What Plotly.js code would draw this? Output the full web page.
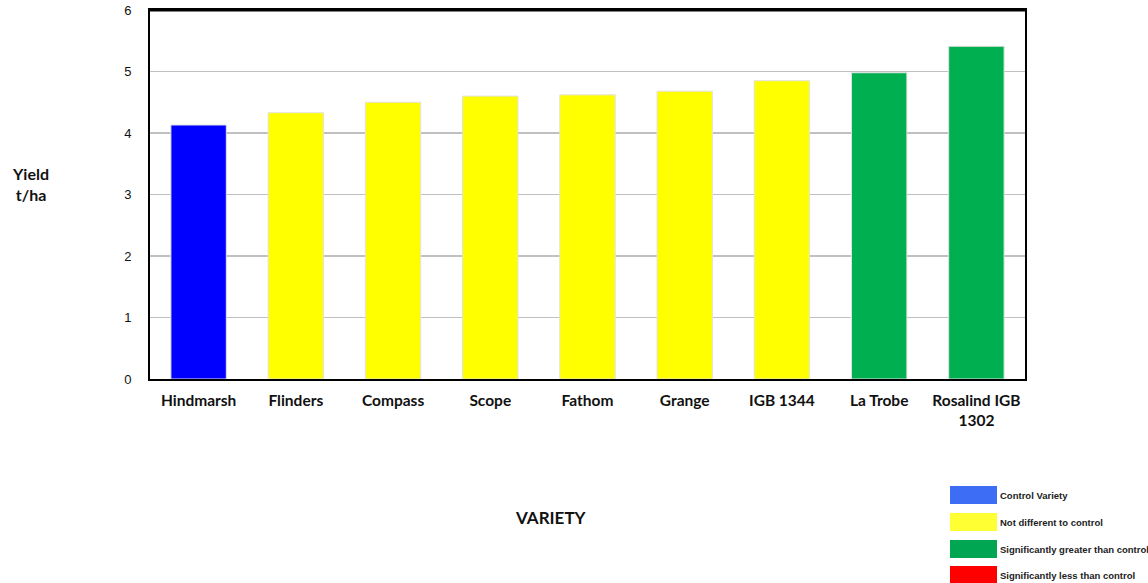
<!DOCTYPE html>
<html><head><meta charset="utf-8">
<script src="https://cdn.plot.ly/plotly-3.0.1.min.js"></script>
<style>body{margin:0;background:#fff}#c{width:1148px;height:583px}</style>
</head><body><div id="c"></div>
<script>
var varieties = ["Hindmarsh","Flinders","Compass","Scope","Fathom","Grange","IGB 1344","La Trobe","Rosalind IGB<br>1302"];
var yields = [4.13, 4.33, 4.50, 4.60, 4.62, 4.68, 4.85, 4.98, 5.41];
var groups = ["control","nd","nd","nd","nd","nd","nd","greater","greater"];
var groupColors = {control:"#0000ff", nd:"#ffff00", greater:"#00b050", less:"#ff0000"};
var legendLabels = ["Control Variety","Not different to control","Significantly greater than control","Significantly less than control"];
var legendColors = ["#3d6df5","#ffff33","#00a651","#ff0000"];

var L=150, R=1025, T=10, B=379, W=1148, H=583;
function px(x){return (x-L)/(R-L);}
function py(y){return (B-y)/(B-T);}

var shapes=[], ann=[];
var legTops=[486,513,540,566];
for(var i=0;i<legendLabels.length;i++){
  shapes.push({type:"rect",xref:"paper",yref:"paper",x0:px(950),x1:px(997),y0:py(legTops[i]),y1:py(legTops[i]+18),fillcolor:legendColors[i],line:{width:0}});
  ann.push({xref:"paper",yref:"paper",x:px(998),y:py(legTops[i]+9),xanchor:"left",yanchor:"middle",showarrow:false,text:"<b>"+legendLabels[i]+"</b>",font:{size:9.5,color:"#222",family:"Liberation Sans"}});
}
// heavier top border
shapes.push({type:"line",xref:"paper",yref:"paper",x0:0,x1:1,y0:1,y1:1,line:{color:"#000",width:3}});
ann.push({xref:"paper",yref:"paper",x:px(30),y:py(184),xanchor:"center",yanchor:"middle",showarrow:false,text:"<b>Yield<br>t/ha</b>",font:{size:16,color:"#111",family:"Lato"}});
ann.push({xref:"paper",yref:"paper",x:px(551),y:py(517),xanchor:"center",yanchor:"middle",showarrow:false,text:"<b>VARIETY</b>",font:{size:17,color:"#111",family:"Lato"}});

Plotly.newPlot("c",[{
  type:"bar",x:varieties,y:yields,
  marker:{color:groups.map(function(g){return groupColors[g];}),line:{color:"#e2e2e2",width:1}},
  hoverinfo:"x+y"
}],{
  width:W,height:H,
  margin:{l:L,r:W-R,t:T,b:H-B,pad:0},
  paper_bgcolor:"#fff",plot_bgcolor:"#fff",
  bargap:0.43,showlegend:false,
  font:{family:"Lato",color:"#111"},
  xaxis:{type:"category",showline:true,mirror:true,linecolor:"#000",linewidth:2,ticks:"",
    tickfont:{size:15.5,family:"Lato",weight:"bold",color:"#111"},ticklabelstandoff:6,showgrid:false},
  yaxis:{range:[0,6],dtick:1,showline:true,mirror:true,linecolor:"#000",linewidth:2,
    gridcolor:"#c0c0c0",gridwidth:1.5,zeroline:false,ticks:"",ticklabelstandoff:14,
    tickfont:{size:13,family:"Liberation Sans",color:"#111"}},
  shapes:shapes,annotations:ann
},{displayModeBar:false,staticPlot:true});
</script></body></html>
